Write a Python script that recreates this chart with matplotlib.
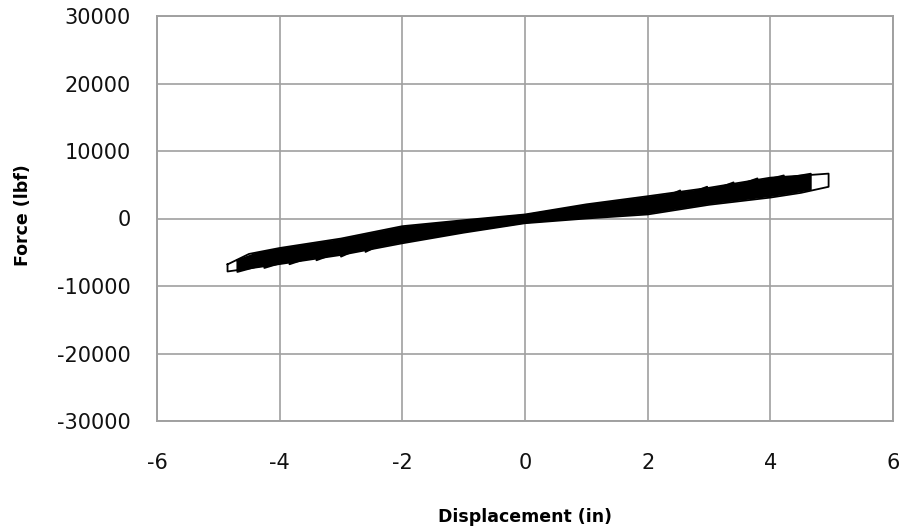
import matplotlib
matplotlib.use("Agg")
import matplotlib.pyplot as plt

plt.rcParams['font.family'] = ['DejaVu Sans']

# Tick values / labels
x_ticks = [-6, -4, -2, 0, 2, 4, 6]
x_tick_labels = ['-6', '-4', '-2', '0', '2', '4', '6']
y_ticks = [-30000, -20000, -10000, 0, 10000, 20000, 30000]
y_tick_labels = ['-30000', '-20000', '-10000', '0', '10000', '20000', '30000']

x_label = 'Displacement (in)'
y_label = 'Force (lbf)'

# Hysteresis cycles (displacement in, force lbf)
cycle1_disp = [-2.6, -2.3, -2, -1, 0, 1, 2, 2.23, 2.53,
               2.53, 2.23, 2, 1, 0, -1, -2, -2.3, -2.6, -2.6]
cycle1_force = [-3300, -2760, -2220, -1040, 40, 1200, 2140, 3020, 4160,
                2480, 2070, 1760, 900, -140, -1310, -2590, -3650, -4950, -3300]

cycle2_disp = [-3.0, -2.7, -2, -1, 0, 1, 2, 2.67, 2.97,
               2.97, 2.67, 2, 1, 0, -1, -2, -2.7, -3.0, -3.0]
cycle2_force = [-3840, -3300, -2040, -910, 140, 1350, 2340, 3680, 4710,
                2890, 2480, 1560, 750, -240, -1440, -2770, -4440, -5650, -3840]

cycle3_disp = [-3.4, -3.1, -3, -2, -1, 0, 1, 2, 3, 3.1, 3.4,
               3.4, 3.1, 3, 2, 1, 0, -1, -2, -3, -3.1, -3.4, -3.4]
cycle3_force = [-4220, -3800, -3665, -1860, -780, 230, 1500, 2530, 3830, 4330, 5350,
                3230, 2870, 2750, 1370, 600, -330, -1570, -2950, -4705, -5190, -6190, -4220]

cycle4_disp = [-3.84, -3.54, -3, -2, -1, 0, 1, 2, 3, 3.49, 3.79,
               3.79, 3.49, 3, 2, 1, 0, -1, -2, -3, -3.54, -3.84, -3.84]
cycle4_force = [-4660, -4240, -3490, -1680, -650, 320, 1650, 2720, 4010, 4990, 5940,
                3490, 3140, 2570, 1180, 450, -420, -1700, -3130, -4880, -5870, -6780, -4660]

cycle5_disp = [-4.25, -3.95, -3, -2, -1, 0, 1, 2, 3, 3.92, 4.22,
               4.22, 3.92, 3, 2, 1, 0, -1, -2, -3, -3.95, -4.25, -4.25]
cycle5_force = [-5130, -4640, -3320, -1500, -510, 410, 1800, 2910, 4190, 5720, 6380,
                3800, 3430, 2390, 990, 300, -510, -1840, -3310, -5050, -6510, -7330, -5130]

cycle6_disp = [-4.69, -4.39, -4, -3, -2, -1, 0, 1, 2, 3, 4, 4.36, 4.66,
               4.66, 4.36, 4, 3, 2, 1, 0, -1, -2, -3, -4, -4.39, -4.69, -4.69]
cycle6_force = [-6200, -5210, -4540, -3150, -1320, -380, 510, 1950, 3110, 4370, 5840, 6170, 6640,
                4290, 3790, 3310, 2210, 790, 150, -610, -1970, -3490, -5230, -6580, -7180, -7920, -6200]

cycle7_disp = [-4.85, -4.5, -4, -3, -2, -1, 0, 1, 2, 3, 4, 4.5, 4.95,
               4.95, 4.5, 4, 3, 2, 1, 0, -1, -2, -3, -4, -4.5, -4.85, -4.85]
cycle7_force = [-6800, -5250, -4370, -2970, -1140, -250, 600, 2100, 3300, 4550, 6050, 6350, 6650,
                4700, 3800, 3100, 2030, 600, 0, -700, -2100, -3670, -5400, -6750, -7400, -7850, -6800]

cycles = [
    (cycle1_disp, cycle1_force),
    (cycle2_disp, cycle2_force),
    (cycle3_disp, cycle3_force),
    (cycle4_disp, cycle4_force),
    (cycle5_disp, cycle5_force),
    (cycle6_disp, cycle6_force),
    (cycle7_disp, cycle7_force),
]
# densely overlapping traces render as solid ink inside the inner cycles
solid_inner = [True, True, True, True, True, True, False]

W, H = 900, 531
fig = plt.figure(figsize=(W / 100, H / 100), dpi=100)
left, right, top, bottom = 157, 893, 16, 421
ax = fig.add_axes([left / W, 1 - bottom / H, (right - left) / W, (bottom - top) / H])

grid_color = '#a0a0a0'
for (d, f), solid in zip(cycles, solid_inner):
    if solid:
        ax.fill(d, f, color='black', lw=0, zorder=2)
    ax.plot(d, f, color='black', lw=1.3, solid_joinstyle='round', zorder=3)

ax.set_xlim(-6, 6)
ax.set_ylim(-30000, 30000)
ax.set_xticks(x_ticks)
ax.set_xticklabels(x_tick_labels)
ax.set_yticks(y_ticks)
ax.set_yticklabels(y_tick_labels)
ax.grid(True, color=grid_color, lw=1.2)
ax.set_axisbelow(True)
for s in ax.spines.values():
    s.set_color(grid_color)
    s.set_linewidth(1.4)

ax.tick_params(axis='both', length=0, labelsize=15, labelcolor='#111111')
ax.tick_params(axis='x', pad=23)
ax.tick_params(axis='y', pad=19)

ax.set_xlabel(x_label, fontsize=12.5, fontweight='bold', va='center')
ax.xaxis.set_label_coords(0.5, (bottom - 517) / (bottom - top))
ax.set_ylabel(y_label, fontsize=12.5, fontweight='bold', va='center')
ax.yaxis.set_label_coords((23 - left) / (right - left), (bottom - 215) / (bottom - top))

fig.savefig('out.png', dpi=100)
